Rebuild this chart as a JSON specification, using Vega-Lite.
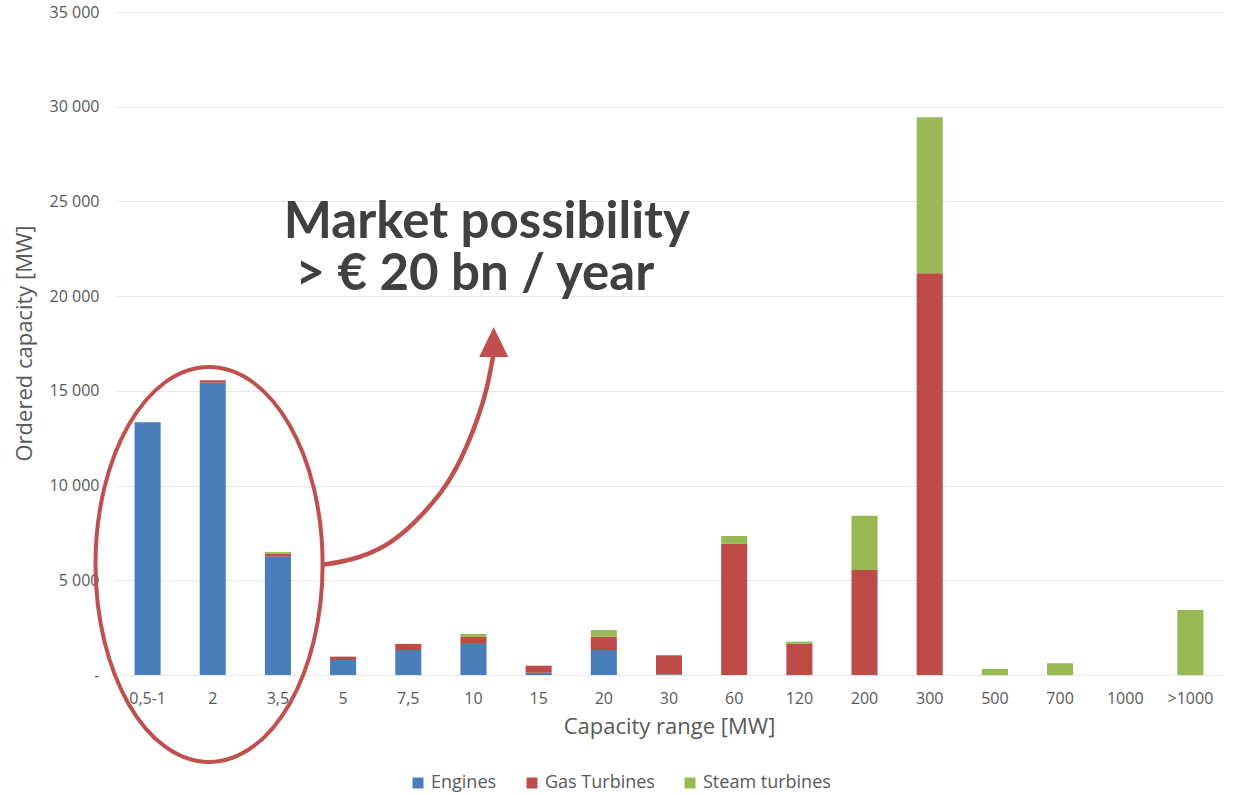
{
  "$schema": "https://vega.github.io/schema/vega-lite/v6.json",
  "width": 1108,
  "height": 663,
  "autosize": "none",
  "padding": {"left": 115, "top": 12, "right": 15, "bottom": 120},
  "background": "white",
  "config": {
    "view": {"stroke": null},
    "font": "Open Sans"
  },
  "datasets": {
    "bars": [
      {"range": "0,5-1", "type": "Engines", "mw": 13340},
      {"range": "2", "type": "Engines", "mw": 15430},
      {"range": "2", "type": "Gas Turbines", "mw": 130},
      {"range": "3,5", "type": "Engines", "mw": 6250},
      {"range": "3,5", "type": "Gas Turbines", "mw": 160},
      {"range": "3,5", "type": "Steam turbines", "mw": 80},
      {"range": "5", "type": "Engines", "mw": 790},
      {"range": "5", "type": "Gas Turbines", "mw": 180},
      {"range": "7,5", "type": "Engines", "mw": 1320},
      {"range": "7,5", "type": "Gas Turbines", "mw": 320},
      {"range": "10", "type": "Engines", "mw": 1640},
      {"range": "10", "type": "Gas Turbines", "mw": 370},
      {"range": "10", "type": "Steam turbines", "mw": 160},
      {"range": "15", "type": "Engines", "mw": 120},
      {"range": "15", "type": "Gas Turbines", "mw": 370},
      {"range": "20", "type": "Engines", "mw": 1320},
      {"range": "20", "type": "Gas Turbines", "mw": 700},
      {"range": "20", "type": "Steam turbines", "mw": 350},
      {"range": "30", "type": "Engines", "mw": 40},
      {"range": "30", "type": "Gas Turbines", "mw": 1000},
      {"range": "60", "type": "Gas Turbines", "mw": 6920},
      {"range": "60", "type": "Steam turbines", "mw": 420},
      {"range": "120", "type": "Gas Turbines", "mw": 1640},
      {"range": "120", "type": "Steam turbines", "mw": 120},
      {"range": "200", "type": "Gas Turbines", "mw": 5540},
      {"range": "200", "type": "Steam turbines", "mw": 2870},
      {"range": "300", "type": "Gas Turbines", "mw": 21210},
      {"range": "300", "type": "Steam turbines", "mw": 8240},
      {"range": "500", "type": "Steam turbines", "mw": 320},
      {"range": "700", "type": "Steam turbines", "mw": 620},
      {"range": "1000", "type": "Steam turbines", "mw": 0},
      {"range": ">1000", "type": "Steam turbines", "mw": 3430}
    ],
    "ellipse": [{"qx": 1.443, "y": 5834}],
    "arrow": [
      {"qx": 3.204, "y": 5834},
      {"qx": 3.614, "y": 6098},
      {"qx": 4.124, "y": 6800},
      {"qx": 4.585, "y": 8036},
      {"qx": 4.994, "y": 9620},
      {"qx": 5.301, "y": 11378},
      {"qx": 5.557, "y": 13490},
      {"qx": 5.710, "y": 15248},
      {"qx": 5.802, "y": 16832}
    ],
    "head": [{"qx": 5.81, "y": 17580}],
    "notes": [
      {"qx": 2.59, "y": 23073, "text": "Market possibility"},
      {"qx": 2.77, "y": 20327, "text": "> € 20 bn / year"}
    ]
  },
  "layer": [
    {
      "data": {"name": "bars"},
      "mark": {"type": "bar"},
      "encoding": {
        "x": {
          "field": "range",
          "type": "ordinal",
          "sort": null,
          "scale": {"paddingInner": 0.6, "paddingOuter": 0.3},
          "axis": {
            "title": "Capacity range [MW]",
            "labelAngle": 0,
            "labelFontSize": 16,
            "labelColor": "#595959",
            "labelPadding": 15,
            "ticks": false,
            "domain": false,
            "titleFontSize": 22,
            "titleFontWeight": "normal",
            "titleColor": "#595959",
            "titlePadding": 10
          }
        },
        "y": {
          "field": "mw",
          "type": "quantitative",
          "stack": "zero",
          "scale": {"domain": [0, 35000], "nice": false},
          "axis": {
            "title": "Ordered capacity [MW]",
            "values": [0, 5000, 10000, 15000, 20000, 25000, 30000, 35000],
            "labelExpr": "datum.value == 0 ? '-' : replace(format(datum.value, ','), ',', ' ')",
            "labelFontSize": 16,
            "labelColor": "#595959",
            "labelPadding": 16,
            "ticks": false,
            "domain": false,
            "grid": true,
            "gridColor": "#e6e6e6",
            "gridWidth": 1.2,
            "titleFontSize": 22,
            "titleFontWeight": "normal",
            "titleColor": "#595959",
            "titleX": -79,
            "titleY": 331,
            "titleAngle": -90,
            "titleAlign": "center",
            "titleBaseline": "bottom"
          }
        },
        "color": {
          "field": "type",
          "type": "nominal",
          "scale": {
            "domain": ["Engines", "Gas Turbines", "Steam turbines"],
            "range": ["#4a7ebb", "#be4b48", "#98b954"]
          },
          "legend": {
            "title": null,
            "orient": "none",
            "direction": "horizontal",
            "legendX": 294,
            "legendY": 762,
            "symbolType": "square",
            "symbolSize": 120,
            "symbolStrokeWidth": 0,
            "labelFontSize": 18,
            "labelColor": "#595959",
            "columnPadding": 26,
            "labelOffset": 4
          }
        },
        "order": {"field": "type", "sort": "ascending"}
      }
    },
    {
      "data": {"name": "ellipse"},
      "mark": {
        "type": "point",
        "shape": "M0,-1C0.3176,-1,0.575,-0.5523,0.575,0C0.575,0.5523,0.3176,1,0,1C-0.3176,1,-0.575,0.5523,-0.575,0C-0.575,-0.5523,-0.3176,-1,0,-1Z",
        "size": 156025,
        "filled": false,
        "stroke": "#c0504d",
        "strokeWidth": 4,
        "opacity": 1
      },
      "encoding": {
        "x": {"field": "qx", "type": "quantitative", "scale": {"domain": [0, 17], "nice": false, "zero": false}, "axis": null},
        "y": {"field": "y", "type": "quantitative", "scale": {"domain": [0, 35000], "nice": false}, "axis": null}
      }
    },
    {
      "data": {"name": "arrow"},
      "mark": {"type": "line", "interpolate": "natural", "color": "#c0504d", "strokeWidth": 4.5},
      "encoding": {
        "x": {"field": "qx", "type": "quantitative", "scale": {"domain": [0, 17], "nice": false, "zero": false}, "axis": null},
        "y": {"field": "y", "type": "quantitative", "scale": {"domain": [0, 35000], "nice": false}, "axis": null}
      }
    },
    {
      "data": {"name": "head"},
      "mark": {
        "type": "point",
        "shape": "M0,-1L0.97,1L-0.97,1Z",
        "size": 900,
        "filled": true,
        "color": "#c0504d",
        "opacity": 1
      },
      "encoding": {
        "x": {"field": "qx", "type": "quantitative", "scale": {"domain": [0, 17], "nice": false, "zero": false}, "axis": null},
        "y": {"field": "y", "type": "quantitative", "scale": {"domain": [0, 35000], "nice": false}, "axis": null}
      }
    },
    {
      "data": {"name": "notes"},
      "mark": {
        "type": "text",
        "align": "left",
        "baseline": "alphabetic",
        "font": "Lato",
        "fontWeight": "bold",
        "fontSize": 51,
        "color": "#404040"
      },
      "encoding": {
        "x": {"field": "qx", "type": "quantitative", "scale": {"domain": [0, 17], "nice": false, "zero": false}, "axis": null},
        "y": {"field": "y", "type": "quantitative", "scale": {"domain": [0, 35000], "nice": false}, "axis": null},
        "text": {"field": "text"}
      }
    }
  ],
  "resolve": {"scale": {"x": "independent", "y": "independent"}}
}
